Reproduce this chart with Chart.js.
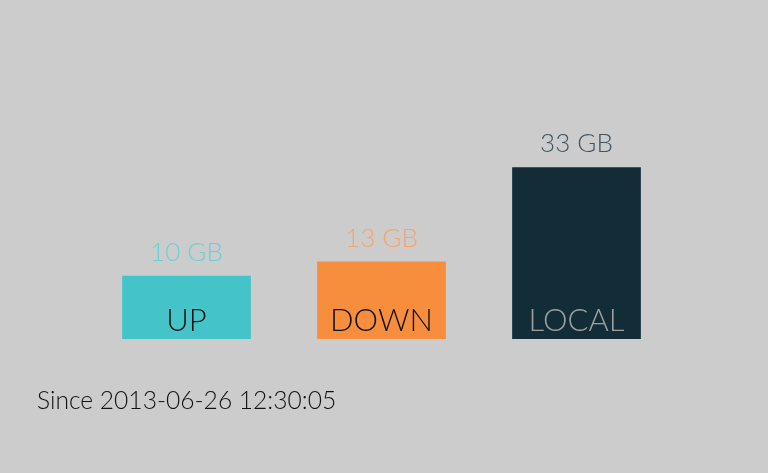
<!DOCTYPE html>
<html>
<head>
<meta charset="utf-8">
<script src="https://cdn.jsdelivr.net/npm/chart.js@4/dist/chart.umd.min.js"></script>
<style>
  html, body { margin: 0; padding: 0; background: #cccccc; }
  #wrap { position: relative; width: 768px; height: 473px; }
  #since {
    position: absolute; left: 37px; top: 385px;
    font-family: 'Lato', sans-serif; font-weight: 300; font-size: 24.6px;
    color: #111; white-space: nowrap;
  }
</style>
</head>
<body>
<div id="wrap">
  <canvas id="chart" width="768" height="473"></canvas>
  <div id="since">Since 2013-06-26 12:30:05</div>
</div>
<script>
const categories = ['UP', 'DOWN', 'LOCAL'];
const usage = [10, 13, 33];
const units = 'GB';
const barColors = ['#44c4c8', '#f78e3e', '#122d38'];
const valueColors = ['#70cfd2', '#f5a46a', '#3f5560'];
const nameColors = ['#111111', '#111111', '#9aa0a2'];

const barLabels = {
  id: 'barLabels',
  afterDatasetsDraw(chart) {
    const ctx = chart.ctx;
    const meta = chart.getDatasetMeta(0);
    ctx.save();
    ctx.textAlign = 'center';
    ctx.textBaseline = 'alphabetic';
    meta.data.forEach((bar, i) => {
      ctx.font = '300 26px Lato, sans-serif';
      ctx.fillStyle = valueColors[i];
      ctx.fillText(usage[i] + ' ' + units, bar.x, bar.y - 15);
      ctx.font = '300 31px Lato, sans-serif';
      ctx.fillStyle = nameColors[i];
      ctx.fillText(categories[i], bar.x, bar.base - 8);
    });
    ctx.restore();
  }
};

new Chart(document.getElementById('chart').getContext('2d'), {
  type: 'bar',
  data: {
    labels: categories,
    datasets: [{
      data: usage,
      base: -3.4,
      backgroundColor: barColors,
      borderWidth: 0,
      barPercentage: 1,
      categoryPercentage: 0.66
    }]
  },
  options: {
    responsive: false,
    animation: false,
    layout: { padding: { left: 89, right: 94, top: 136, bottom: 134 } },
    plugins: { legend: { display: false }, tooltip: { enabled: false } },
    scales: {
      x: { display: false },
      y: { display: false, min: -3.4, max: 39.6 }
    }
  },
  plugins: [barLabels]
});
</script>
</body>
</html>
